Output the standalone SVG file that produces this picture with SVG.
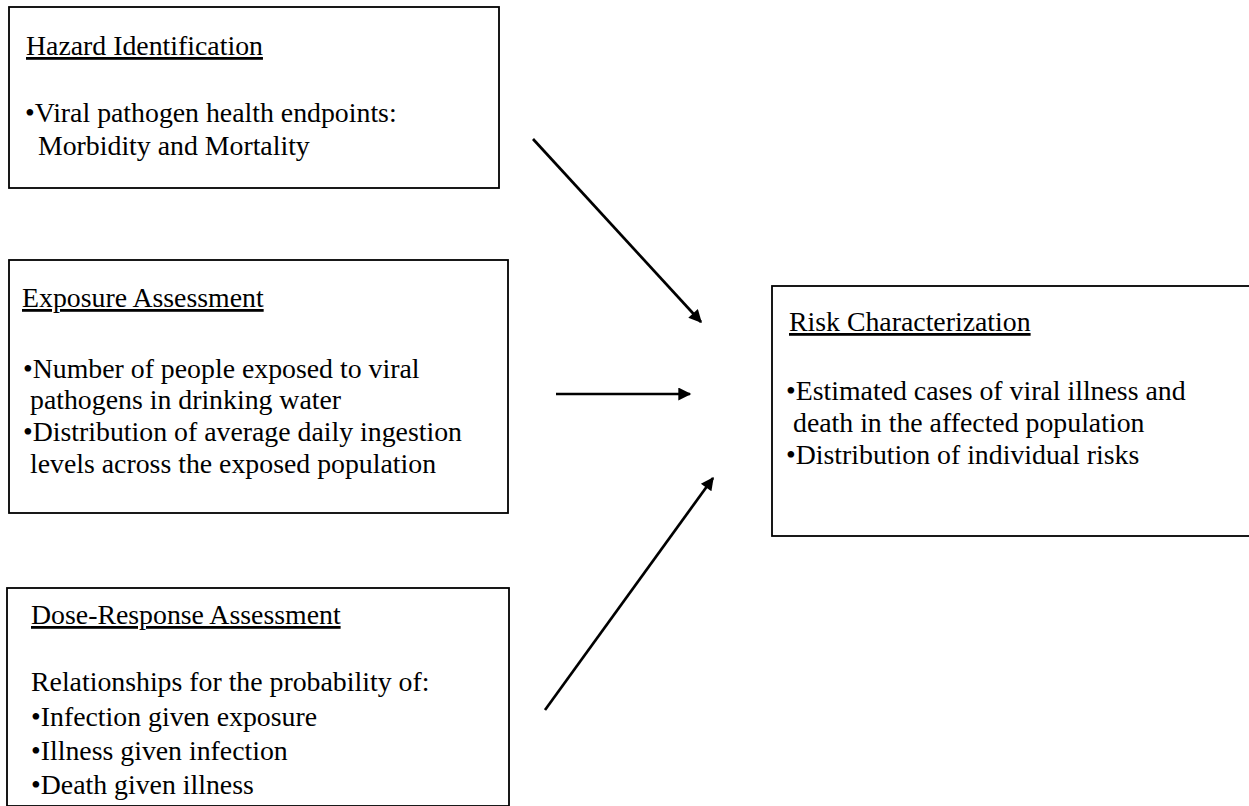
<svg xmlns="http://www.w3.org/2000/svg" width="1249" height="806" viewBox="0 0 1249 806">
  <style>
    .box { fill: #ffffff; stroke: #000000; stroke-width: 1.8; }
    .t { font-family: "Liberation Serif", "Times New Roman", serif; font-size: 27.8px; fill: #000000; }
    .title { text-decoration: underline; }
    .edge { stroke: #000000; stroke-width: 2.7; fill: none; marker-end: url(#arrow); }
  </style>
  <defs>
    <marker id="arrow" viewBox="0 0 10 10" refX="9" refY="5" markerUnits="userSpaceOnUse" markerWidth="16" markerHeight="13" orient="auto">
      <path d="M0,0 L10,5 L0,10 Z" fill="#000000"/>
    </marker>
  </defs>
  <rect width="1249" height="806" fill="#ffffff"/>

  <g id="hazard-identification">
    <rect class="box" x="9" y="7" width="490" height="181"/>
    <text class="t title" x="26" y="55">Hazard Identification</text>
    <text class="t" x="25" y="122">•Viral pathogen health endpoints:</text>
    <text class="t" x="38" y="155">Morbidity and Mortality</text>
  </g>

  <g id="exposure-assessment">
    <rect class="box" x="9" y="260" width="499" height="253"/>
    <text class="t title" x="22" y="307">Exposure Assessment</text>
    <text class="t" x="23" y="378">•Number of people exposed to viral</text>
    <text class="t" x="30" y="409">pathogens in drinking water</text>
    <text class="t" x="23" y="441">•Distribution of average daily ingestion</text>
    <text class="t" x="30" y="473">levels across the exposed population</text>
  </g>

  <g id="dose-response-assessment">
    <rect class="box" x="7" y="588" width="502" height="218"/>
    <text class="t title" x="31" y="624">Dose-Response Assessment</text>
    <text class="t" x="31" y="691">Relationships for the probability of:</text>
    <text class="t" x="31" y="726">•Infection given exposure</text>
    <text class="t" x="31" y="760">•Illness given infection</text>
    <text class="t" x="31" y="794">•Death given illness</text>
  </g>

  <g id="risk-characterization">
    <rect class="box" x="772" y="286" width="500" height="250"/>
    <text class="t title" x="789" y="331">Risk Characterization</text>
    <text class="t" x="786" y="400">•Estimated cases of viral illness and</text>
    <text class="t" x="793" y="432">death in the affected population</text>
    <text class="t" x="786" y="464">•Distribution of individual risks</text>
  </g>

  <g id="connectors">
    <line class="edge" x1="533" y1="139" x2="701" y2="322"/>
    <line class="edge" x1="556" y1="394" x2="690" y2="394"/>
    <line class="edge" x1="545" y1="710" x2="713" y2="478"/>
  </g>
</svg>
